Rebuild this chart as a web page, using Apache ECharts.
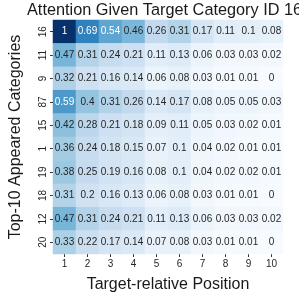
<!DOCTYPE html>
<html>
<head>
<meta charset="utf-8">
<script src="https://cdn.jsdelivr.net/npm/echarts@6/dist/echarts.min.js"></script>
<style>
html,body{margin:0;padding:0;background:#fff}
#chart{width:299px;height:298px}
</style>
</head>
<body>
<div id="chart"></div>
<script>
// positions along x, categories along y (top to bottom)
const positions = ['1','2','3','4','5','6','7','8','9','10']
const categories = ['16','11','9','87','15','1','19','18','12','20']

const row16 = [1, 0.69, 0.54, 0.46, 0.26, 0.31, 0.17, 0.11, 0.1, 0.08]
const row11 = [0.47, 0.31, 0.24, 0.21, 0.11, 0.13, 0.06, 0.03, 0.03, 0.02]
const row9  = [0.32, 0.21, 0.16, 0.14, 0.06, 0.08, 0.03, 0.01, 0.01, 0]
const row87 = [0.59, 0.4, 0.31, 0.26, 0.14, 0.17, 0.08, 0.05, 0.05, 0.03]
const row15 = [0.42, 0.28, 0.21, 0.18, 0.09, 0.11, 0.05, 0.03, 0.02, 0.01]
const row1  = [0.36, 0.24, 0.18, 0.15, 0.07, 0.1, 0.04, 0.02, 0.01, 0.01]
const row19 = [0.38, 0.25, 0.19, 0.16, 0.08, 0.1, 0.04, 0.02, 0.02, 0.01]
const row18 = [0.31, 0.2, 0.16, 0.13, 0.06, 0.08, 0.03, 0.01, 0.01, 0]
const row12 = [0.47, 0.31, 0.24, 0.21, 0.11, 0.13, 0.06, 0.03, 0.03, 0.02]
const row20 = [0.33, 0.22, 0.17, 0.14, 0.07, 0.08, 0.03, 0.01, 0.01, 0]

const rows = [row16, row11, row9, row87, row15, row1, row19, row18, row12, row20]

let data = []
rows.forEach((r, yi) => {
    r.forEach((v, xi) => {
        data.push({
            value: [xi, yi, v],
            label: { color: v > 0.5 ? '#ffffff' : '#262626' }
        })
    })
})

const font = 'Liberation Sans, Arial, sans-serif'
let myChart = echarts.init(document.getElementById('chart'))
let option = {
    animation: false,
    title: {
        text: 'Attention Given Target Category ID 16',
        left: 27,
        top: 3,
        padding: 0,
        textStyle: { fontFamily: font, fontSize: 16.3, fontWeight: 'normal', color: '#1a1a1a' }
    },
    grid: { left: 44, right: 16, top: 20, bottom: 38 },
    xAxis: {
        type: 'category',
        data: positions,
        name: 'Target-relative Position',
        nameLocation: 'middle',
        nameGap: 23,
        nameTextStyle: { fontFamily: font, fontSize: 16, color: '#1a1a1a' },
        axisLine: { show: false },
        axisTick: { show: true, alignWithLabel: true, length: 3, lineStyle: { color: '#333' } },
        axisLabel: { fontFamily: font, fontSize: 10, color: '#262626', margin: 5 },
        splitArea: { show: false }
    },
    yAxis: {
        type: 'category',
        data: categories,
        inverse: true,
        name: 'Top-10 Appeared Categories',
        nameLocation: 'middle',
        nameGap: 29,
        nameTextStyle: { fontFamily: font, fontSize: 16, color: '#1a1a1a' },
        axisLine: { show: false },
        axisTick: { show: true, alignWithLabel: true, length: 3, lineStyle: { color: '#333' } },
        axisLabel: { fontFamily: font, fontSize: 10, color: '#262626', rotate: 90, margin: 5 }
    },
    visualMap: {
        show: false,
        min: 0,
        max: 1,
        dimension: 2,
        inRange: {
            color: ['#f7fbff', '#deebf7', '#c6dbef', '#9ecae1', '#6baed6', '#4292c6', '#2171b5', '#08519c', '#08306b']
        }
    },
    series: [{
        type: 'heatmap',
        data: data,
        label: { show: true, fontFamily: font, fontSize: 10, formatter: p => String(p.value[2]) },
        itemStyle: { borderWidth: 0 },
        emphasis: { disabled: true }
    }]
}
myChart.setOption(option)
</script>
</body>
</html>
